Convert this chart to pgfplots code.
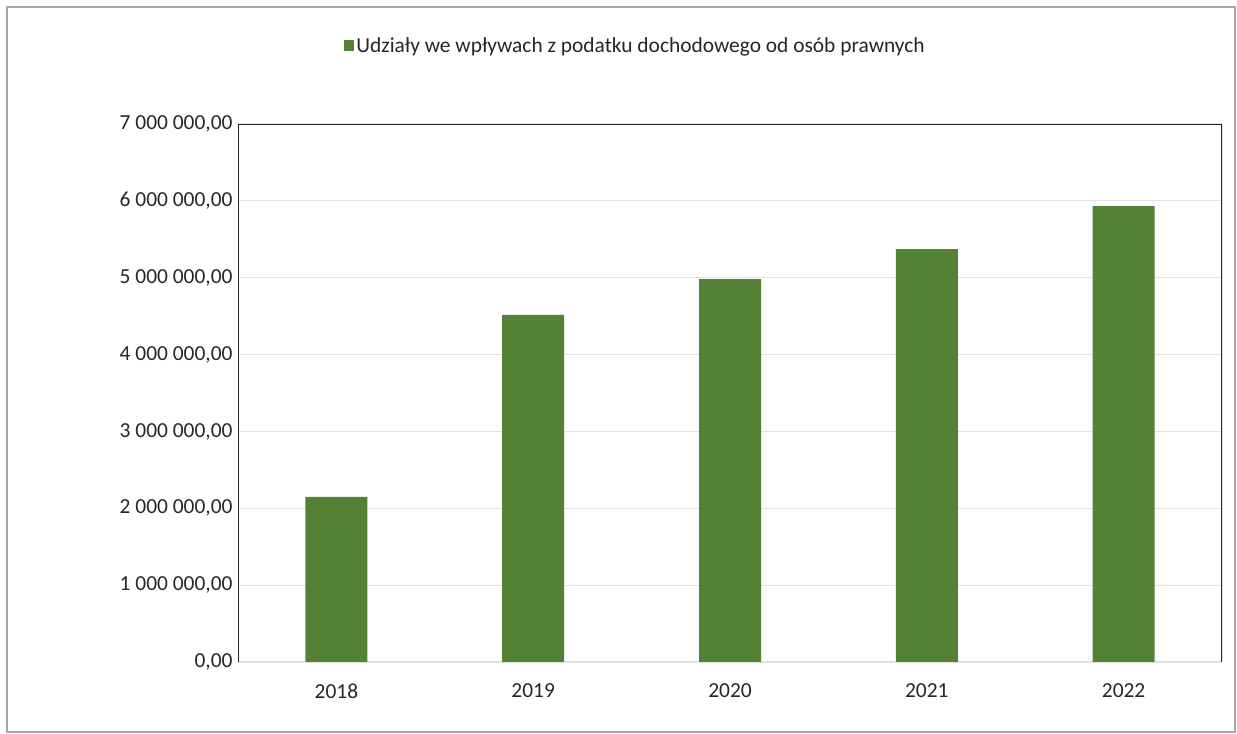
\documentclass[border=0pt]{standalone}
\usepackage{pgfplots}
\pgfplotsset{compat=1.18}
\usepackage{fontspec}
\setmainfont{Carlito}
\definecolor{bargreen}{RGB}{84,130,53}
\definecolor{gridgray}{RGB}{225,225,225}
\begin{document}
\begin{tikzpicture}
\useasboundingbox (0,0) rectangle (1237bp,734bp);
\draw[gray!70, line width=1.2bp] (7bp,2bp) rectangle (1235bp,727bp);
\begin{axis}[
  at={(238bp,72bp)}, anchor=south west,
  scale only axis, width=984bp, height=538bp,
  xmin=-0.5, xmax=4.5, ymin=0, ymax=7000000,
  xtick={0,1,2,3,4}, xticklabels={2018,2019,2020,2021,2022},
  ytick={0,1000000,2000000,3000000,4000000,5000000,6000000,7000000},
  yticklabels={{0,00},{1 000 000,00},{2 000 000,00},{3 000 000,00},{4 000 000,00},{5 000 000,00},{6 000 000,00},{7 000 000,00}},
  scaled y ticks=false,
  major tick length=0pt,
  axis line style={draw=none},
  ymajorgrids, grid style={gridgray, line width=1.2bp},
  tick label style={font=\fontsize{21.5}{23}\selectfont, text=black!85},
  yticklabel style={xshift=-2bp},
  xticklabel style={yshift=-18bp},
  legend style={draw=none, fill=none, at={(axis description cs:0.404,1.145)}, anchor=center,
    font=\fontsize{21.5}{23}\selectfont, text=black!85, inner sep=0pt},
  legend image code/.code={\fill[bargreen] (0bp,-5bp) rectangle (10bp,6bp);},
]
\addplot[ybar, bar width=0.315, fill=bargreen, draw=none] coordinates {
  (0,2147000) (1,4515000) (2,4983000) (3,5373000) (4,5933000)
};
\addlegendentry{Udziały we wpływach z podatku dochodowego od osób prawnych}
\draw[black!85, line width=1.3bp] (rel axis cs:0,0) -- (rel axis cs:0,1) -- (rel axis cs:1,1) -- (rel axis cs:1,0);
\end{axis}
\end{tikzpicture}
\end{document}
